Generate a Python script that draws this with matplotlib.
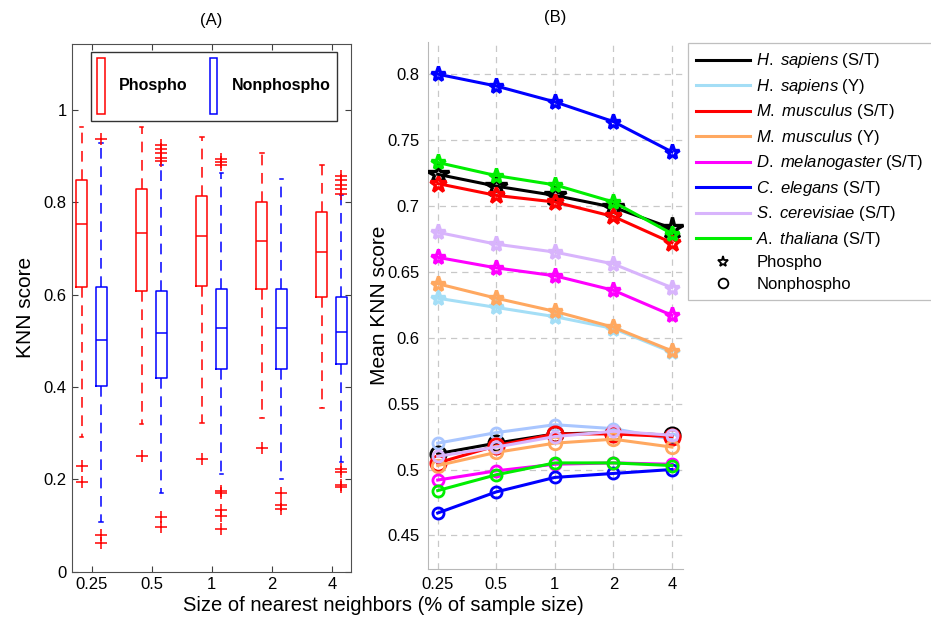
import numpy as np
import matplotlib
matplotlib.use('Agg')
from matplotlib import pyplot as plt
from matplotlib.patches import Patch
from matplotlib.lines import Line2D

plt.rcParams['font.family'] = ['Liberation Sans', 'DejaVu Sans']
plt.rcParams['mathtext.fontset'] = 'custom'
plt.rcParams['mathtext.rm'] = 'Liberation Sans'
plt.rcParams['mathtext.it'] = 'Liberation Sans:italic'

# x categories (% of sample size)
sizes = ['0.25', '0.5', '1', '2', '4']

# (A) box statistics
pho_q1 = [0.616, 0.609, 0.618, 0.612, 0.596]
pho_med = [0.754, 0.733, 0.728, 0.717, 0.692]
pho_q3 = [0.849, 0.829, 0.814, 0.800, 0.780]
pho_whislo = [0.291, 0.319, 0.322, 0.333, 0.354]
pho_whishi = [0.964, 0.964, 0.942, 0.906, 0.882]
pho_fliers = [[0.229, 0.195], [0.250], [0.244], [0.269], []]

non_q1 = [0.402, 0.420, 0.440, 0.440, 0.449]
non_med = [0.502, 0.518, 0.529, 0.529, 0.520]
non_q3 = [0.616, 0.609, 0.612, 0.612, 0.596]
non_whislo = [0.107, 0.171, 0.212, 0.200, 0.238]
non_whishi = [0.929, 0.882, 0.863, 0.851, 0.817]
non_fliers = [[0.938, 0.080, 0.062],
              [0.925, 0.916, 0.907, 0.897, 0.889, 0.119, 0.098],
              [0.895, 0.888, 0.880, 0.175, 0.171, 0.133, 0.121, 0.092],
              [0.171, 0.145, 0.136],
              [0.858, 0.848, 0.838, 0.829, 0.819, 0.222, 0.216, 0.188, 0.183]]

# (B) mean KNN score per species
species = [r'$\mathit{H.\ sapiens}$ (S/T)', r'$\mathit{H.\ sapiens}$ (Y)',
           r'$\mathit{M.\ musculus}$ (S/T)', r'$\mathit{M.\ musculus}$ (Y)',
           r'$\mathit{D.\ melanogaster}$ (S/T)', r'$\mathit{C.\ elegans}$ (S/T)',
           r'$\mathit{S.\ cerevisiae}$ (S/T)', r'$\mathit{A.\ thaliana}$ (S/T)']
phospho = [
    [0.724, 0.715, 0.708, 0.699, 0.683],
    [0.630, 0.623, 0.616, 0.607, 0.589],
    [0.717, 0.708, 0.703, 0.692, 0.672],
    [0.641, 0.630, 0.620, 0.608, 0.590],
    [0.661, 0.653, 0.647, 0.636, 0.617],
    [0.800, 0.791, 0.779, 0.764, 0.741],
    [0.680, 0.671, 0.665, 0.656, 0.638],
    [0.733, 0.723, 0.716, 0.703, 0.679],
]
nonphospho = [
    [0.512, 0.520, 0.527, 0.528, 0.526],
    [0.520, 0.528, 0.534, 0.531, 0.523],
    [0.505, 0.518, 0.527, 0.527, 0.525],
    [0.503, 0.513, 0.520, 0.523, 0.517],
    [0.492, 0.499, 0.504, 0.505, 0.504],
    [0.467, 0.483, 0.494, 0.497, 0.500],
    [0.510, 0.517, 0.525, 0.529, 0.526],
    [0.484, 0.496, 0.505, 0.505, 0.503],
]

colors = ['black', '#a4def6', '#ff0000', '#ffa860', '#ff00ff', '#0000ff', '#d8b4fc', '#00ee00']
colors_non = ['black', '#a9c6ff', '#ff0000', '#ffa860', '#ff00ff', '#0000ff', '#d8b4fc', '#00ee00']
star_ms = [16, 11, 12, 11, 11, 11, 11, 11]
circ_ms = [11, 8, 11, 9, 8, 8, 8, 8]

fig = plt.figure(figsize=(9.31, 6.29), dpi=100)

# ---------------- (A) ----------------
ax1 = fig.add_axes([0.077, 0.091, 0.300, 0.839])
x = np.arange(1, len(sizes) + 1)


def stats(q1, med, q3, lo, hi, fl):
    return [dict(q1=a, med=b, q3=c, whislo=d, whishi=e, fliers=f)
            for a, b, c, d, e, f in zip(q1, med, q3, lo, hi, fl)]


for st, pos, col in [(stats(pho_q1, pho_med, pho_q3, pho_whislo, pho_whishi, pho_fliers), x - 0.167, 'red'),
                     (stats(non_q1, non_med, non_q3, non_whislo, non_whishi, non_fliers), x + 0.16, 'blue')]:
    ax1.bxp(st, positions=pos, widths=0.18, capwidths=0.06, showfliers=True,
            boxprops=dict(color=col, lw=1.1),
            medianprops=dict(color=col, lw=1.1),
            whiskerprops=dict(color=col, lw=1.1, linestyle=(0, (7, 5))),
            capprops=dict(color=col, lw=1.1),
            flierprops=dict(marker='+', markeredgecolor='red', markersize=8, markeredgewidth=1.1))

ax1.set_xlim(0.667, 5.32)
ax1.set_ylim(0, 1.143)
ax1.set_xticks(x)
ax1.set_xticklabels(sizes)
ax1.set_yticks([0, 0.2, 0.4, 0.6, 0.8, 1])
ax1.set_yticklabels(['0', '0.2', '0.4', '0.6', '0.8', '1'])
ax1.tick_params(direction='in', top=True, right=True, labelsize=12, length=4, color='#404040')
for s in ax1.spines.values():
    s.set_color('#505050')
ax1.set_ylabel('KNN score', fontsize=15, labelpad=6)
ax1.set_title('(A)', fontsize=12, pad=14)

leg1 = ax1.legend(handles=[Patch(facecolor='none', edgecolor='red', lw=1.1, label='Phospho'),
                           Patch(facecolor='none', edgecolor='blue', lw=1.1, label='Nonphospho')],
                  ncol=2, loc='upper left', bbox_to_anchor=(0.069, 0.80, 0.881, 0.185),
                  mode='expand', borderaxespad=0,
                  prop=dict(size=11.5, weight='bold'), handlelength=0.45, handleheight=5.0,
                  handletextpad=0.9, borderpad=0.4, fancybox=False)
leg1.get_frame().set_edgecolor('black')
leg1.get_frame().set_linewidth(1.0)

# ---------------- (B) ----------------
ax2 = fig.add_axes([0.4597, 0.0954, 0.274, 0.838])
for i in range(len(species)):
    ax2.plot(x, phospho[i], color=colors[i], lw=2.2, marker='*', ms=star_ms[i],
             mfc='none', mec=colors[i], mew=2.4, zorder=3)
for i in range(len(species)):
    ax2.plot(x, nonphospho[i], color=colors_non[i], lw=2.2, marker='o', ms=circ_ms[i],
             mfc='none', mec=colors_non[i], mew=2.0, zorder=3)

ax2.set_xlim(0.834, 5.19)
ax2.set_ylim(0.4245, 0.8245)
ax2.set_xticks(x)
ax2.set_xticklabels(sizes)
yt = [0.45, 0.5, 0.55, 0.6, 0.65, 0.7, 0.75, 0.8]
ax2.set_yticks(yt)
ax2.set_yticklabels(['0.45', '0.5', '0.55', '0.6', '0.65', '0.7', '0.75', '0.8'])
ax2.tick_params(length=0, labelsize=12, pad=6)
ax2.grid(True, color='#c8c8c8', linestyle=(0, (5, 4)), lw=0.9)
ax2.set_axisbelow(True)
ax2.spines['top'].set_visible(False)
ax2.spines['right'].set_visible(False)
ax2.spines['left'].set_color('#b8b8b8')
ax2.spines['bottom'].set_color('#b8b8b8')
ax2.set_ylabel('Mean KNN score', fontsize=15, labelpad=-1)
ax2.set_title('(B)', fontsize=12, pad=14)

handles = [Line2D([], [], color=c, lw=2.2, label=l) for c, l in zip(colors, species)]
handles.append(Line2D([], [], ls='none', marker='*', color='black', mfc='none', mew=1.3, ms=8, label='Phospho'))
handles.append(Line2D([], [], ls='none', marker='o', color='black', mfc='none', mew=1.3, ms=7, label='Nonphospho'))
leg2 = fig.legend(handles=handles, loc='upper left', bbox_to_anchor=(688 / 931, 1 - 43 / 629),
                  borderaxespad=0, fontsize=12, handlelength=3.2, handletextpad=0.4, labelspacing=0.39,
                  borderpad=0.5, fancybox=False, numpoints=1)
leg2.get_frame().set_edgecolor('#b0b0b0')
leg2.get_frame().set_linewidth(0.9)

fig.text(0.4114, 0.0366, 'Size of nearest neighbors (% of sample size)', ha='center', va='center', fontsize=14.5)

fig.savefig('out.png', dpi=100)
